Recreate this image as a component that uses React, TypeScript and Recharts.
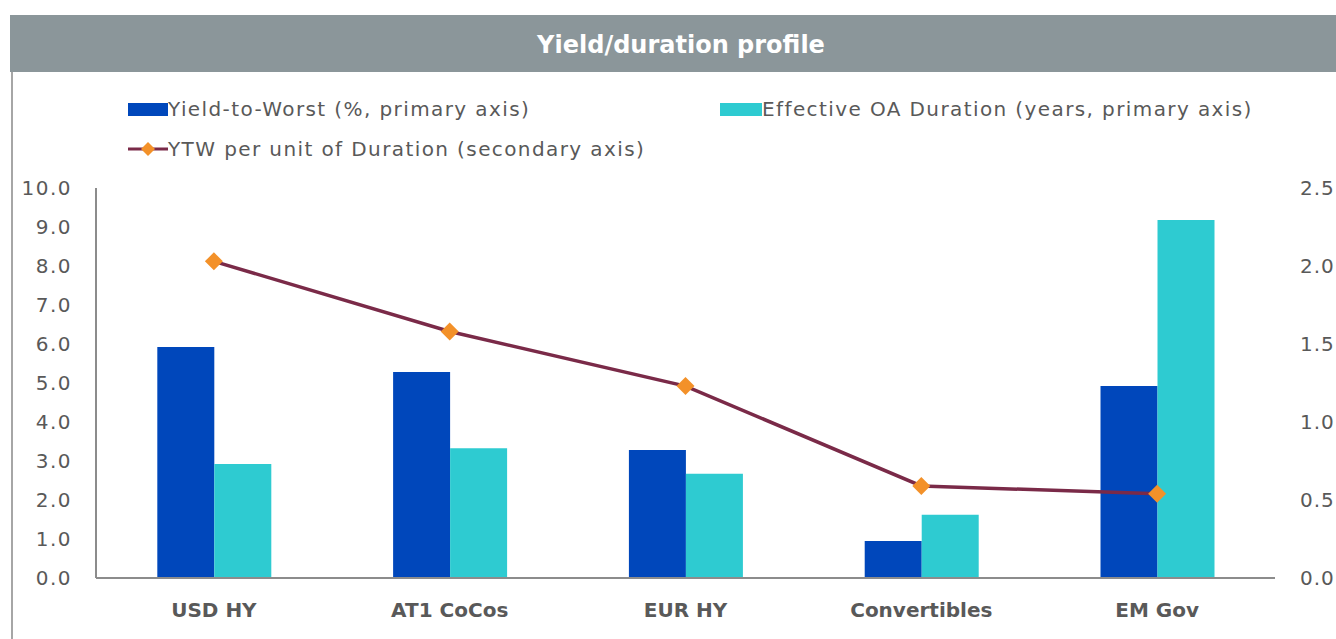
import React from 'react';
import { ComposedChart, Bar, Line, XAxis, YAxis } from 'recharts';

const categories = ['USD HY', 'AT1 CoCos', 'EUR HY', 'Convertibles', 'EM Gov'];
const yieldToWorst = [5.92, 5.28, 3.28, 0.95, 4.92];
const effDuration = [2.92, 3.33, 2.67, 1.62, 9.18];
const ytwPerDuration = [2.03, 1.58, 1.23, 0.59, 0.54];
const leftTicks = [0, 1, 2, 3, 4, 5, 6, 7, 8, 9, 10];
const rightTicks = [0, 0.5, 1, 1.5, 2, 2.5];

const DARK_BLUE = '#0047bb';
const CYAN = '#2ecbd1';
const MAROON = '#7a2a48';
const ORANGE = '#f39129';
const TEXT = '#595959';
const FONT = '"DejaVu Sans", sans-serif';

const chartData = categories.map((name, i) => ({
  name,
  ytw: yieldToWorst[i],
  dur: effDuration[i],
  ratio: ytwPerDuration[i],
}));

const Diamond = (props: any) => {
  const { cx, cy } = props;
  if (cx == null || cy == null) return null;
  const r = 9;
  return (
    <path
      d={`M${cx},${cy - r} L${cx + r},${cy} L${cx},${cy + r} L${cx - r},${cy} Z`}
      fill={ORANGE}
      stroke="none"
    />
  );
};

// legend drawn as plain html so it doesn't push the plot area down
const ChartLegend = () => {
  const text: React.CSSProperties = { fontSize: 20, color: TEXT, fontFamily: FONT, whiteSpace: 'nowrap', letterSpacing: 1.4 };
  return (
    <>
      <div style={{ position: 'absolute', left: 128, top: 97, display: 'flex', alignItems: 'center' }}>
        <span style={{ display: 'inline-block', width: 40, height: 13, background: DARK_BLUE }} />
        <span style={text}>Yield-to-Worst (%, primary axis)</span>
      </div>
      <div style={{ position: 'absolute', left: 720, top: 97, display: 'flex', alignItems: 'center' }}>
        <span style={{ display: 'inline-block', width: 42, height: 13, background: CYAN }} />
        <span style={text}>Effective OA Duration (years, primary axis)</span>
      </div>
      <div style={{ position: 'absolute', left: 128, top: 137, display: 'flex', alignItems: 'center' }}>
        <svg width={40} height={20}>
          <line x1={0} y1={10} x2={40} y2={10} stroke={MAROON} strokeWidth={3} />
          <path d="M20,3 L27,10 L20,17 L13,10 Z" fill={ORANGE} />
        </svg>
        <span style={text}>YTW per unit of Duration (secondary axis)</span>
      </div>
    </>
  );
};

export default function App() {
  return (
    <div style={{ position: 'absolute', left: 0, top: 0, width: 1336, height: 639, background: '#fff', overflow: 'hidden' }}>
      <div
        style={{
          position: 'absolute', left: 10, top: 15, width: 1326, height: 57, background: '#8b969a',
          display: 'flex', alignItems: 'center', justifyContent: 'center',
          color: '#fff', fontFamily: FONT, fontWeight: 700, fontSize: 24,
        }}
      >
        <span style={{ marginLeft: 16, marginTop: 3 }}>Yield/duration profile</span>
      </div>
      <div style={{ position: 'absolute', left: 11, top: 72, width: 2, height: 567, background: '#a6a6a6' }} />
      <ChartLegend />
      <div style={{ position: 'absolute', left: 0, top: 0 }}>
        <ComposedChart
          width={1336}
          height={639}
          data={chartData}
          margin={{ top: 188, right: 0, bottom: 0, left: 0 }}
          barCategoryGap="26%"
          barGap={0}
        >
          <XAxis
            dataKey="name"
            height={61}
            axisLine={{ stroke: '#8c8c8c', strokeWidth: 2 }}
            tickLine={false}
            tickSize={6}
            tickMargin={19}
            tick={{ fill: TEXT, fontSize: 20, fontWeight: 700, fontFamily: FONT }}
            interval={0}
          />
          <YAxis
            yAxisId="left"
            width={96}
            domain={[0, 10]}
            ticks={leftTicks}
            interval={0}
            tickFormatter={(v: number) => v.toFixed(1)}
            axisLine={{ stroke: '#8c8c8c', strokeWidth: 2 }}
            tickLine={false}
            tickSize={6}
            tickMargin={18}
            tick={{ fill: TEXT, fontSize: 20, fontFamily: FONT, letterSpacing: 1.5 }}
          />
          <YAxis
            yAxisId="right"
            orientation="right"
            width={61}
            domain={[0, 2.5]}
            ticks={rightTicks}
            interval={0}
            tickFormatter={(v: number) => v.toFixed(1)}
            axisLine={false}
            tickLine={false}
            tickSize={6}
            tickMargin={19}
            tick={{ fill: TEXT, fontSize: 20, fontFamily: FONT, textAnchor: 'start', letterSpacing: 1 }}
          />
          <Bar yAxisId="left" dataKey="ytw" name="Yield-to-Worst (%, primary axis)" fill={DARK_BLUE} isAnimationActive={false} />
          <Bar yAxisId="left" dataKey="dur" name="Effective OA Duration (years, primary axis)" fill={CYAN} isAnimationActive={false} />
          <Line
            yAxisId="right"
            dataKey="ratio"
            name="YTW per unit of Duration (secondary axis)"
            stroke={MAROON}
            strokeWidth={3.5}
            dot={<Diamond />}
            activeDot={false}
            isAnimationActive={false}
          />
        </ComposedChart>
      </div>
    </div>
  );
}
